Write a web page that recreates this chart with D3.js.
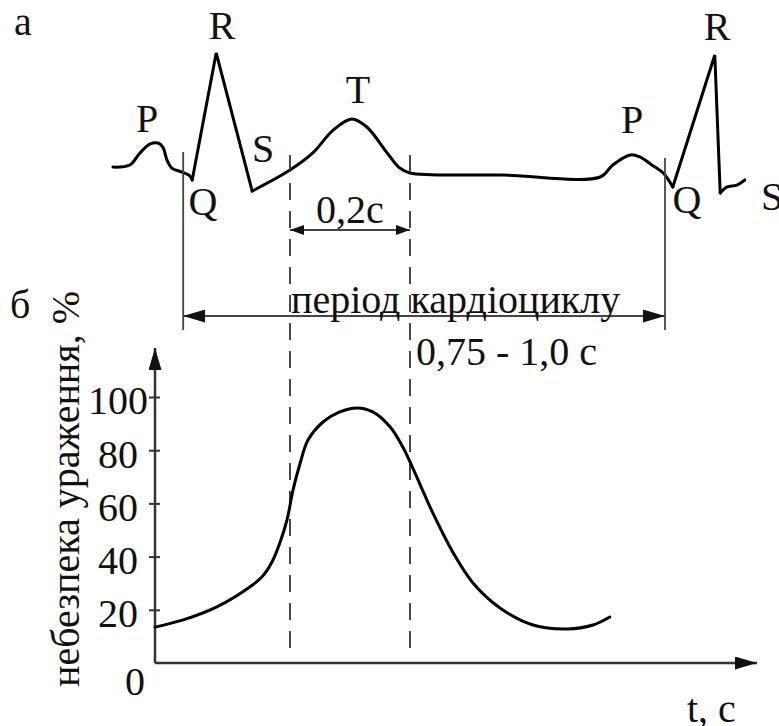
<!DOCTYPE html>
<html>
<head>
<meta charset="utf-8">
<script src="https://cdn.jsdelivr.net/npm/d3@7"></script>
<style>
  body { margin: 0; background: #fff; }
  svg text { font-family: "Liberation Serif", "Times New Roman", serif; fill: #111; }
</style>
</head>
<body>
<div id="chart"></div>
<script>
// ECG trace (time in s, amplitude in mV), split at the sharp QRS corners
const ecgPWave1 = [[-0.07, 0.05], [-0.042, 0.068], [-0.025, 0.17], [-0.008, 0.246], [0.005, 0.254],
    [0.013, 0.22], [0.02, 0.11], [0.028, 0.042], [0.045, 0.008], [0.058, -0.025], [0.062, -0.06]];
const ecgQRS1 = [[0.062, -0.06], [0.102, 1.017], [0.162, -0.153]];
const ecgSTP = [[0.162, -0.153], [0.225, 0.025], [0.263, 0.17], [0.297, 0.364], [0.328, 0.458],
    [0.353, 0.39], [0.387, 0.17], [0.408, 0.042], [0.425, 0], [0.58, -0.017], [0.742, -0.034],
    [0.763, 0.068], [0.792, 0.153], [0.808, 0.136], [0.828, 0.068], [0.847, 0], [0.863, -0.119]];
const ecgQRS2 = [[0.863, -0.119], [0.933, 1.0], [0.942, -0.169]];
const ecgTail = [[0.942, -0.169], [0.953, -0.119], [0.97, -0.102], [0.983, -0.059]];

// risk of injury curve
const riskTime = [0, 0.047, 0.103, 0.158, 0.178, 0.195, 0.208, 0.22, 0.23, 0.242, 0.255, 0.28, 0.308, 0.337,
    0.363, 0.392, 0.413, 0.425, 0.442, 0.463, 0.497, 0.53, 0.575, 0.63, 0.687, 0.73, 0.758];
const riskValue = [13.5, 16.2, 21.1, 28.6, 32.3, 38.0, 45.1, 53.8, 65.0, 75.2, 83.8, 90.6, 94.4, 95.9,
    94.4, 88.7, 81.2, 75.6, 67.0, 56.4, 41.4, 30.1, 20.7, 14.3, 12.8, 14.3, 17.3];

const yTicks = [20, 40, 60, 80, 100];
const tWindow = [0.225, 0.425];      // 0,2 c vulnerable window
const tPeriod = [0.047, 0.85];       // cardiac cycle

const W = 779, H = 726;
const svg = d3.select("#chart").append("svg")
    .attr("width", W).attr("height", H)
    .attr("viewBox", `0 0 ${W} ${H}`);

// arrow markers
const defs = svg.append("defs");
const addMarker = (id, len, wid, color) => {
    defs.append("marker")
        .attr("id", id)
        .attr("markerUnits", "userSpaceOnUse")
        .attr("viewBox", `0 0 ${len} ${wid}`)
        .attr("markerWidth", len).attr("markerHeight", wid)
        .attr("refX", len).attr("refY", wid / 2)
        .attr("orient", "auto-start-reverse")
        .append("path")
        .attr("d", `M0,0L${len},${wid / 2}L0,${wid}Z`)
        .attr("fill", color);
};
addMarker("arrowBig", 22, 13, "#111");
addMarker("arrowSmall", 14, 10, "#111");

// Scales
const x = d3.scaleLinear().domain([0, 1]).range([155, 755]);
const yRisk = d3.scaleLinear().domain([0, 100]).range([663, 397]);
const yEcg = d3.scaleLinear().domain([0, 1]).range([173, 55]);

// ---- а: ECG ----
const smooth = d3.line().x(d => x(d[0])).y(d => yEcg(d[1])).curve(d3.curveCatmullRom.alpha(0.5));
[ecgPWave1, ecgSTP, ecgTail].forEach(seg => {
    svg.append("path").attr("d", smooth(seg))
        .attr("fill", "none").attr("stroke", "#000").attr("stroke-width", 3)
        .attr("stroke-linejoin", "round").attr("stroke-linecap", "round");
});
const sharp = d3.line().x(d => x(d[0])).y(d => yEcg(d[1]));
[ecgQRS1, ecgQRS2].forEach(seg => {
    svg.append("path").attr("d", sharp(seg))
        .attr("fill", "none").attr("stroke", "#000").attr("stroke-width", 3)
        .attr("stroke-linejoin", "miter").attr("stroke-linecap", "round");
});

// wave labels
const waveLabels = [
    ["P", 147, 132], ["R", 222, 39], ["S", 263, 162], ["Q", 203, 215], ["T", 358, 103],
    ["P", 632, 133], ["R", 717, 40], ["Q", 687, 213]
];
waveLabels.forEach(([t, lx, ly]) => {
    svg.append("text").attr("x", lx).attr("y", ly)
        .attr("text-anchor", "middle").style("font-size", "40px").text(t);
});
svg.append("text").attr("x", 761).attr("y", 210).style("font-size", "40px").text("S");
svg.append("text").attr("x", 14).attr("y", 35).style("font-size", "40px").text("а");

// dashed lines bounding the 0,2 c window
tWindow.forEach(t => {
    svg.append("line")
        .attr("x1", x(t)).attr("x2", x(t))
        .attr("y1", 155).attr("y2", 657)
        .attr("stroke", "#333").attr("stroke-width", 1.8)
        .attr("stroke-dasharray", "17,11");
});
svg.append("line")
    .attr("x1", x(tWindow[0])).attr("x2", x(tWindow[1]))
    .attr("y1", 230).attr("y2", 230)
    .attr("stroke", "#444").attr("stroke-width", 2)
    .attr("marker-start", "url(#arrowSmall)").attr("marker-end", "url(#arrowSmall)");
svg.append("text")
    .attr("x", (x(tWindow[0]) + x(tWindow[1])) / 2).attr("y", 223)
    .attr("text-anchor", "middle").style("font-size", "40px").text("0,2c");

// cardiac period
tPeriod.forEach((t, i) => {
    svg.append("line")
        .attr("x1", x(t)).attr("x2", x(t))
        .attr("y1", i === 0 ? 152 : 158).attr("y2", 330)
        .attr("stroke", "#444").attr("stroke-width", 1.8);
});
svg.append("line")
    .attr("x1", x(tPeriod[0])).attr("x2", x(tPeriod[1]))
    .attr("y1", 316).attr("y2", 316)
    .attr("stroke", "#444").attr("stroke-width", 2)
    .attr("marker-start", "url(#arrowBig)").attr("marker-end", "url(#arrowBig)");
svg.append("text").attr("x", 291).attr("y", 313)
    .style("font-size", "40px").text("період кардіоциклу");
svg.append("text").attr("x", 416).attr("y", 365)
    .style("font-size", "40px").text("0,75 - 1,0 с");

// ---- б: risk of injury ----
const axisG = svg.append("g")
    .attr("transform", `translate(${x(0)},0)`)
    .call(d3.axisLeft(yRisk).tickValues(yTicks).tickSizeInner(6).tickSizeOuter(0));
axisG.select(".domain").remove();
axisG.selectAll(".tick line").attr("x1", 5).attr("stroke", "#333").attr("stroke-width", 2);
axisG.selectAll(".tick text")
    .attr("x", -37).attr("dy", "0.42em")
    .attr("text-anchor", "middle")
    .style("font-size", "40px")
    .style("font-family", "'Liberation Serif', serif")
    .attr("fill", "#111");

// axis lines with arrows
svg.append("line")
    .attr("x1", x(0)).attr("x2", x(0))
    .attr("y1", yRisk(0)).attr("y2", 348)
    .attr("stroke", "#333").attr("stroke-width", 2.5)
    .attr("marker-end", "url(#arrowBig)");
svg.append("line")
    .attr("x1", x(0)).attr("x2", 757)
    .attr("y1", yRisk(0)).attr("y2", yRisk(0))
    .attr("stroke", "#333").attr("stroke-width", 2.5)
    .attr("marker-end", "url(#arrowBig)");

svg.append("text").attr("x", 135).attr("y", 695)
    .attr("text-anchor", "middle").style("font-size", "40px").text("0");
svg.append("text").attr("x", 687).attr("y", 722)
    .style("font-size", "40px").text("t, c");
svg.append("text").attr("x", 10).attr("y", 318)
    .style("font-size", "40px").text("б");

// Y axis label
svg.append("text")
    .attr("transform", "translate(79,489) rotate(-90)")
    .attr("text-anchor", "middle")
    .style("font-size", "40px")
    .text("небезпека ураження, %");

// risk curve
const riskData = riskTime.map((t, i) => [t, riskValue[i]]);
svg.append("path")
    .attr("d", d3.line().x(d => x(d[0])).y(d => yRisk(d[1])).curve(d3.curveCatmullRom.alpha(0.5))(riskData))
    .attr("fill", "none").attr("stroke", "#000").attr("stroke-width", 3)
    .attr("stroke-linecap", "round");
</script>
</body>
</html>
